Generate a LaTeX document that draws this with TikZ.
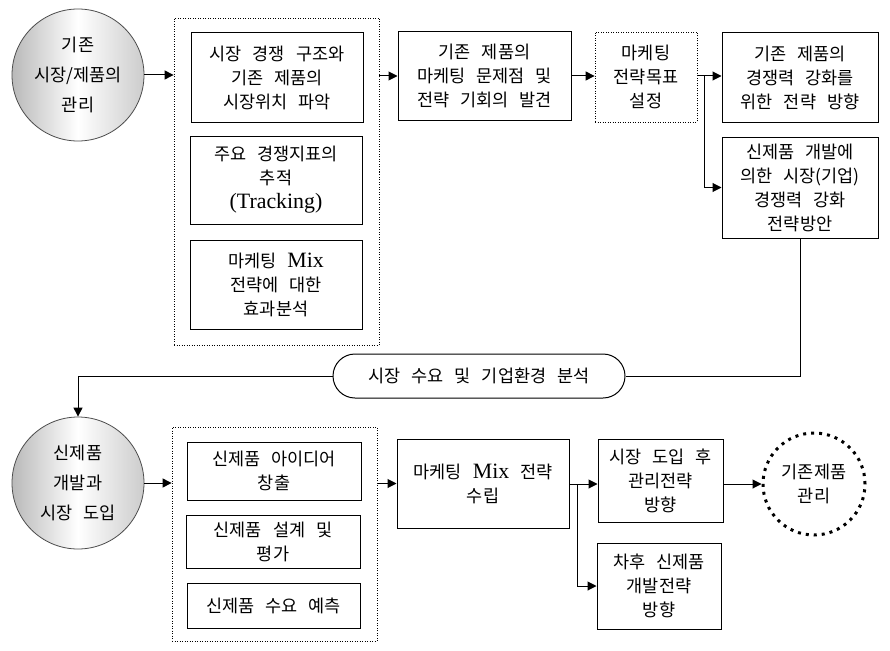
\documentclass[tikz,border=0pt]{standalone}
\usepackage{fontspec}
\setmainfont[WordSpace=2.8]{Noto Sans CJK KR}
\newfontfamily\latin[Scale=1.25]{Liberation Serif}
\usetikzlibrary{arrows.meta}
\begin{document}
\begin{tikzpicture}[x=1pt, y=-1pt,
  every node/.style={font=\fontsize{17.5}{24}\selectfont, align=center, inner sep=0pt},
  box/.style 2 args={draw, line width=1pt, minimum width=#1, minimum height=#2},
  grp/.style 2 args={draw, line width=.8pt, dash pattern=on 1pt off 1.5pt, minimum width=#1, minimum height=#2},
  ball/.style={circle, draw=gray!60!black, line width=.8pt, minimum size=132, left color=gray!55, right color=gray!40, middle color=white, font=\fontsize{17.5}{30}\selectfont},
  arr/.style={line width=1pt, -{Triangle[length=9pt,width=9pt]}},
  lin/.style={line width=1pt}]
\useasboundingbox (0,0) rectangle (890,650);
\node[ball] (c1) at (78,75){기존\\시장/제품의\\관리};
\node[grp={205}{327}] (grp1) at (276.5,181.5){};
\node[box={172}{89}] (a1) at (277,77.5){시장 경쟁 구조와\\기존 제품의\\시장위치 파악};
\node[box={172}{88}] (a2) at (276,180){주요 경쟁지표의\\추적\\{\latin (Tracking)}};
\node[box={172}{89}] (a3) at (276,284.5){마케팅 {\latin Mix}\\전략에 대한\\효과분석};
\node[box={173}{88}] (b) at (484.5,76){기존 제품의\\마케팅 문제점 및\\전략 기회의 발견};
\node[grp={102}{90}] (c) at (646,77){마케팅\\전략목표\\설정};
\node[box={156}{89}] (d) at (800,77.5){기존 제품의\\경쟁력 강화를\\위한 전략 방향};
\node[box={156}{101}] (e) at (800,187.5){신제품 개발에\\의한 시장(기업)\\경쟁력 강화\\전략방안};
\node[draw, lin, rounded corners=22, minimum width=292, minimum height=44] (s) at (479,376){시장 수요 및 기업환경 분석};
\node[ball] (c2) at (78,483){신제품\\개발과\\시장 도입};
\node[grp={205}{214}] (grp2) at (274.5,534){};
\node[box={174}{58}] (f1) at (274,471){신제품 아이디어\\창출};
\node[box={174}{53}] (f2) at (273,541.5){신제품 설계 및\\평가};
\node[box={173}{45}] (f3) at (273.5,605.5){신제품 수요 예측};
\node[box={172}{89}] (g) at (483,483.5){마케팅 {\latin Mix} 전략\\수립};
\node[box={125}{83}] (h) at (660.5,480.5){시장 도입 후\\관리전략\\방향};
\node[box={124}{86}] (i) at (659,586){차후 신제품\\개발전략\\방향};
\node[circle, line width=3pt, dash pattern=on 3pt off 5pt, draw, minimum size=102] (k) at (814,484){기존제품\\관리};
\coordinate (t1) at (704,76);
\coordinate (t2) at (577,484);
\draw[arr] (c1.east) -- (grp1.west |- c1.east);
\draw[arr] (grp1.east |- b.west) -- (b.west);
\draw[arr] (b.east) -- (c.west |- b.east);
\draw[lin] (c.east |- t1) -- (t1);
\draw[arr] (t1) -- (d.west |- t1);
\draw[arr] (t1) |- (e.west);
\draw[lin] (e.south) |- (s.east);
\draw[arr] (s.west) -| (c2.north);
\draw[arr] (c2.east) -- (grp2.west |- c2.east);
\draw[arr] (grp2.east |- g.west) -- (g.west);
\draw[lin] (g.east |- t2) -- (t2);
\draw[arr] (t2) -- (h.west |- t2);
\draw[arr] (t2) |- (i.west);
\draw[arr] (h.east |- k.west) -- (k.west);
\end{tikzpicture}
\end{document}
